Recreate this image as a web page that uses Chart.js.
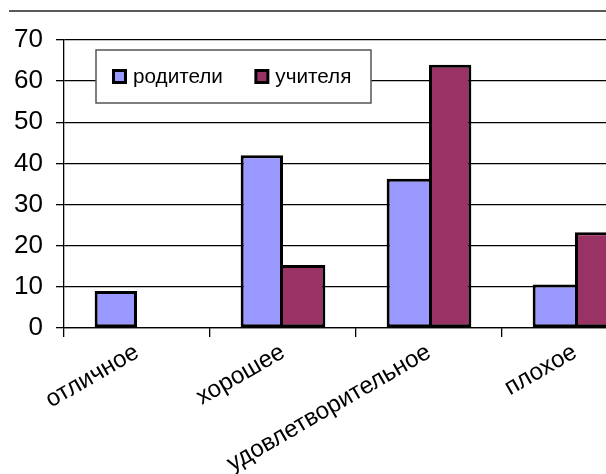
<!DOCTYPE html>
<html>
<head>
<meta charset="utf-8">
<script src="https://cdn.jsdelivr.net/npm/chart.js@4"></script>
<style>
  html, body { margin: 0; padding: 0; overflow: hidden; background: #fff; }
  canvas { display: block; }
</style>
</head>
<body>
<canvas id="c" width="652" height="474"></canvas>
<script>
// Оценки: категории и доли ответов по группам
const categories = ['отличное', 'хорошее', 'удовлетворительное', 'плохое'];
const seriesNames = ['родители', 'учителя'];
const parents = [9, 42, 36.3, 10.6];
const teachers = [0, 15.3, 64, 23.3];
const yTicks = [0, 10, 20, 30, 40, 50, 60, 70];

const FONT = '"Liberation Sans", Arial, sans-serif';
const colors = ['#9999FF', '#993366'];

// Shared edge between two neighbouring bars is outlined by the taller one only
function edgeWidth(ctx) {
  const i = ctx.dataIndex;
  const ds = ctx.chart.data.datasets;
  const a = ds[0].data[i], b = ds[1].data[i];
  if (ctx.datasetIndex === 0) {
    return { top: 3, left: 3, bottom: 3, right: a >= b ? 3 : 0 };
  }
  return { top: 3, right: 3, bottom: 3, left: b > a ? 3 : 0 };
}

// Background and the thin rule across the top of the figure
const frame = {
  id: 'frame',
  beforeDraw(chart) {
    const c = chart.ctx;
    c.save();
    c.fillStyle = '#fff';
    c.fillRect(0, 0, chart.width, chart.height);
    c.strokeStyle = '#222';
    c.lineWidth = 1.5;
    c.beginPath();
    c.moveTo(9, 11);
    c.lineTo(chart.width, 11);
    c.stroke();
    c.restore();
  }
};

// Boxed legend sitting inside the plot area
const legendBox = {
  id: 'legendBox',
  afterDatasetsDraw(chart) {
    const c = chart.ctx;
    const a = chart.chartArea;
    const x = a.left + 32, y = a.top + 10, w = 275, h = 53;
    c.save();
    c.fillStyle = '#fff';
    c.fillRect(x, y, w, h);
    c.strokeStyle = '#555';
    c.lineWidth = 1.5;
    c.strokeRect(x, y, w, h);
    c.font = '20.7px ' + FONT;
    c.textBaseline = 'middle';
    let ix = x + 17.5;
    const cy = y + h / 2;
    chart.data.datasets.forEach((ds) => {
      c.fillStyle = ds.backgroundColor;
      c.fillRect(ix, cy - 6, 12, 12);
      c.strokeStyle = '#000';
      c.lineWidth = 3;
      c.strokeRect(ix, cy - 6, 12, 12);
      c.fillStyle = '#000';
      c.fillText(ds.label, ix + 19.5, cy + 1);
      ix += 19.5 + c.measureText(ds.label).width + 33;
    });
    c.restore();
  }
};

new Chart(document.getElementById('c'), {
  type: 'bar',
  data: {
    labels: categories,
    datasets: [
      { label: seriesNames[0], data: parents, backgroundColor: colors[0] },
      { label: seriesNames[1], data: teachers, backgroundColor: colors[1] }
    ]
  },
  options: {
    responsive: false,
    animation: false,
    devicePixelRatio: 1,
    layout: { padding: { top: 40, left: 0, right: 4, bottom: 0 } },
    datasets: {
      bar: {
        barPercentage: 1,
        categoryPercentage: 0.58,
        borderColor: '#000',
        borderWidth: edgeWidth,
        borderSkipped: false,
        inflateAmount: 0
      }
    },
    plugins: {
      legend: { display: false },
      tooltip: { enabled: false }
    },
    scales: {
      x: {
        afterFit: (s) => { s.height = 146; },
        grid: { display: true, drawOnChartArea: false, color: '#000', lineWidth: 1.3, tickLength: 9, offset: true },
        border: { color: '#000', width: 1.3 },
        ticks: {
          color: '#000',
          font: { family: FONT, size: 24 },
          minRotation: 30,
          maxRotation: 30,
          autoSkip: false,
          padding: 1
        }
      },
      y: {
        min: 0,
        max: 70,
        afterBuildTicks: (s) => { s.ticks = yTicks.map((v) => ({ value: v })); },
        afterFit: (s) => { s.width = 64; },
        grid: { color: '#000', lineWidth: 1.3, tickLength: 8 },
        border: { color: '#000', width: 1.3 },
        ticks: { color: '#000', font: { family: FONT, size: 26 }, padding: 13 }
      }
    }
  },
  plugins: [frame, legendBox]
});
</script>
</body>
</html>
